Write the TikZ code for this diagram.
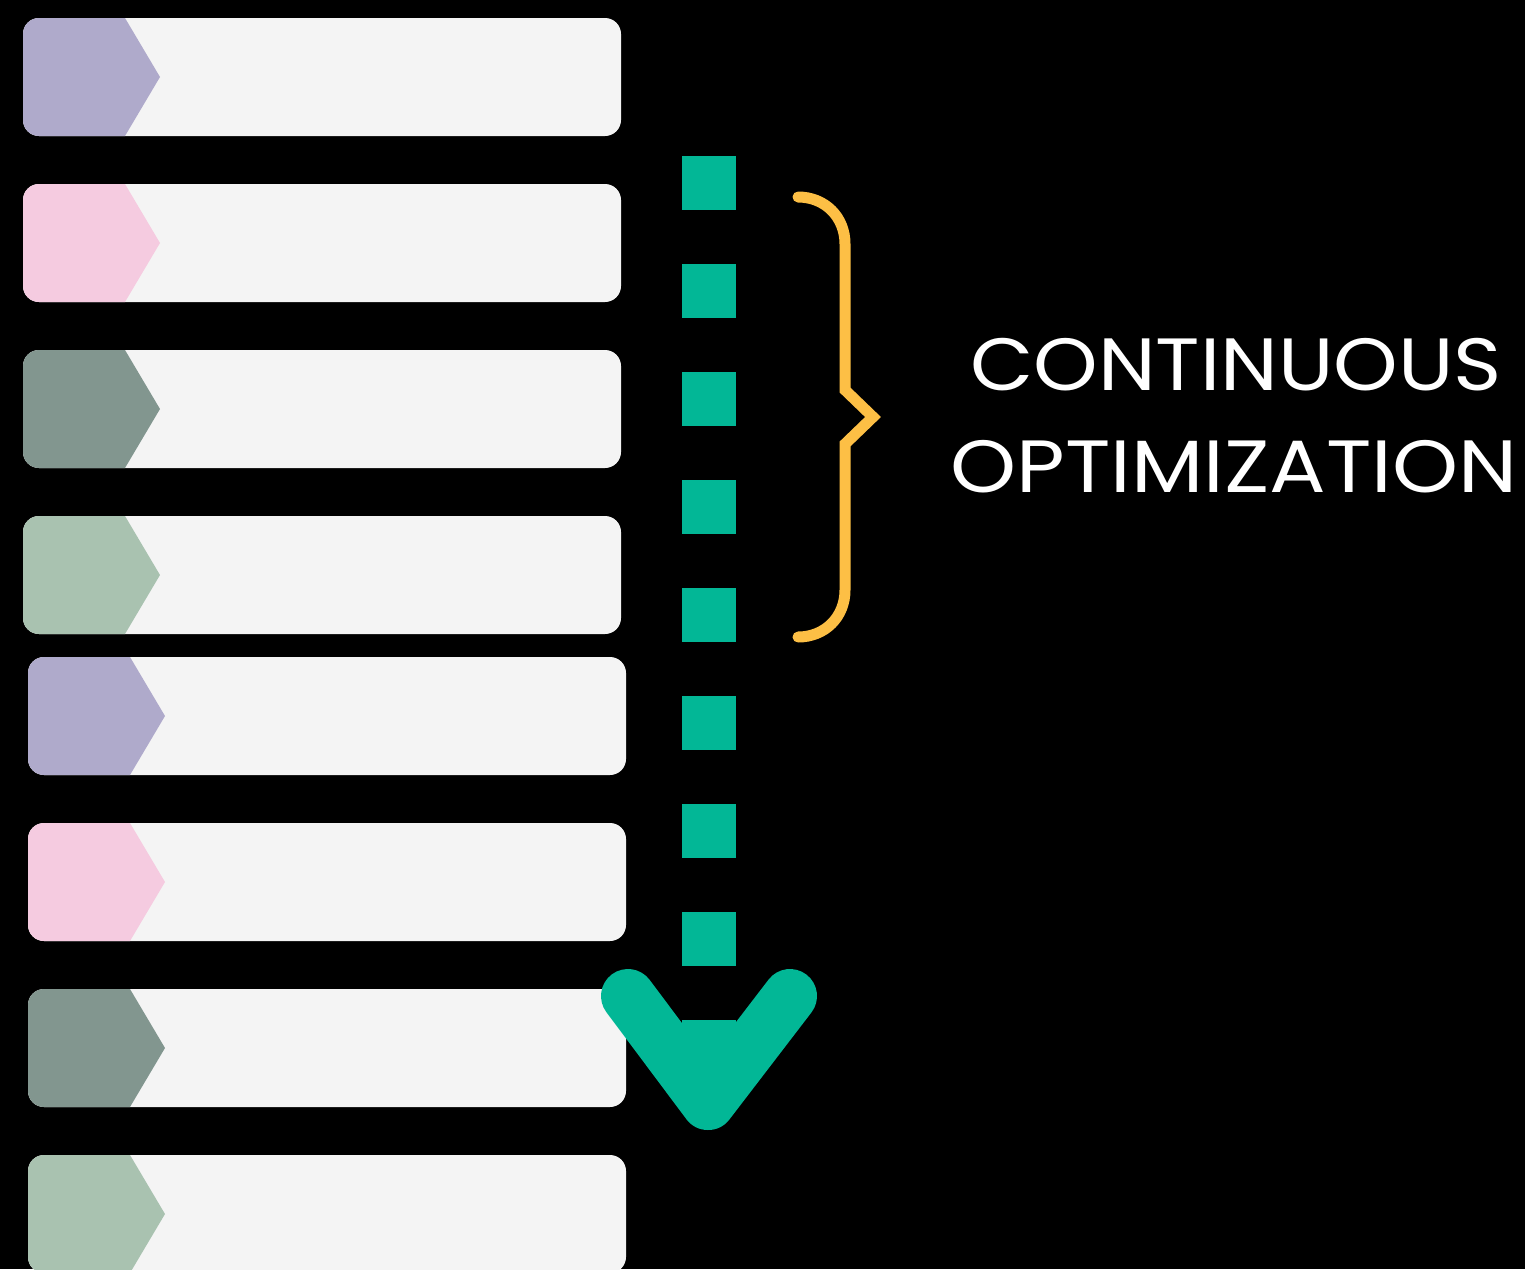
\documentclass[tikz,border=0pt]{standalone}
\usepackage{fontspec}
\usepackage{graphicx}
\setmainfont{Poppins}
\definecolor{bgc}{HTML}{000000}
\definecolor{barc}{HTML}{F4F4F4}
\definecolor{purp}{HTML}{AFAACB}
\definecolor{pinkc}{HTML}{F5CBE0}
\definecolor{sage}{HTML}{82968F}
\definecolor{mint}{HTML}{A9C2B0}
\definecolor{teal}{HTML}{02B796}
\definecolor{gold}{HTML}{FDBF45}
\tikzset{
  barbox/.style={fill=barc, rounded corners=8pt},
  dashbox/.style={fill=teal},
  bracestyle/.style={draw=gold, line width=5.5pt, line cap=round, line join=miter},
  arrowstyle/.style={draw=teal, line width=27pt, line cap=round, line join=round},
  label/.style={text=white, font=\fontsize{37}{44}\selectfont, anchor=base, inner sep=0pt}
}
\newcommand{\rowbar}[4]{% name, x0, y0, colour
  \begin{scope}
    \path[barbox] (#2,#3) rectangle ++(598,118);
    \clip[rounded corners=8pt] (#2,#3) rectangle ++(598,118);
    \fill[#4] (#2,#3) -- ++(102,0) -- ++(35,59) -- ++(-35,59) -- ++(-102,0) -- cycle;
    \coordinate (#1) at (#2+299,#3+59);
  \end{scope}
}
\begin{document}
\begin{tikzpicture}[x=0.5pt,y=-0.5pt]
\fill[bgc] (0,0) rectangle (1525,1269);
\useasboundingbox (0,0) rectangle (1525,1269);
\rowbar{r1}{23}{18}{purp}
\rowbar{r2}{23}{184}{pinkc}
\rowbar{r3}{23}{350}{sage}
\rowbar{r4}{23}{516}{mint}
\rowbar{r5}{28}{657}{purp}
\rowbar{r6}{28}{823}{pinkc}
\rowbar{r7}{28}{989}{sage}
\rowbar{r8}{28}{1155}{mint}
\foreach \i in {0,...,8}{
  \fill[dashbox] (682,156+108*\i) rectangle ++(54,54);
}
\coordinate (al) at (628,996);
\coordinate (ab) at (708,1103);
\coordinate (ar) at (790,996);
\draw[arrowstyle] (al) -- (ab) -- (ar);
\coordinate (b1) at (798,197);
\coordinate (b2) at (798,637);
\draw[bracestyle] (b1) .. controls (825,197) and (845,217) .. (845,244) -- (845,390) -- (873,417) -- (845,444) -- (845,590) .. controls (845,617) and (825,637) .. (b2);
\node[label] (t1) at (1236,390) {\scalebox{1.11}[1]{CONTINUOUS}};
\node[label] (t2) at (1234,492) {\scalebox{1.135}[1]{OPTIMIZATION}};
\end{tikzpicture}
\end{document}
